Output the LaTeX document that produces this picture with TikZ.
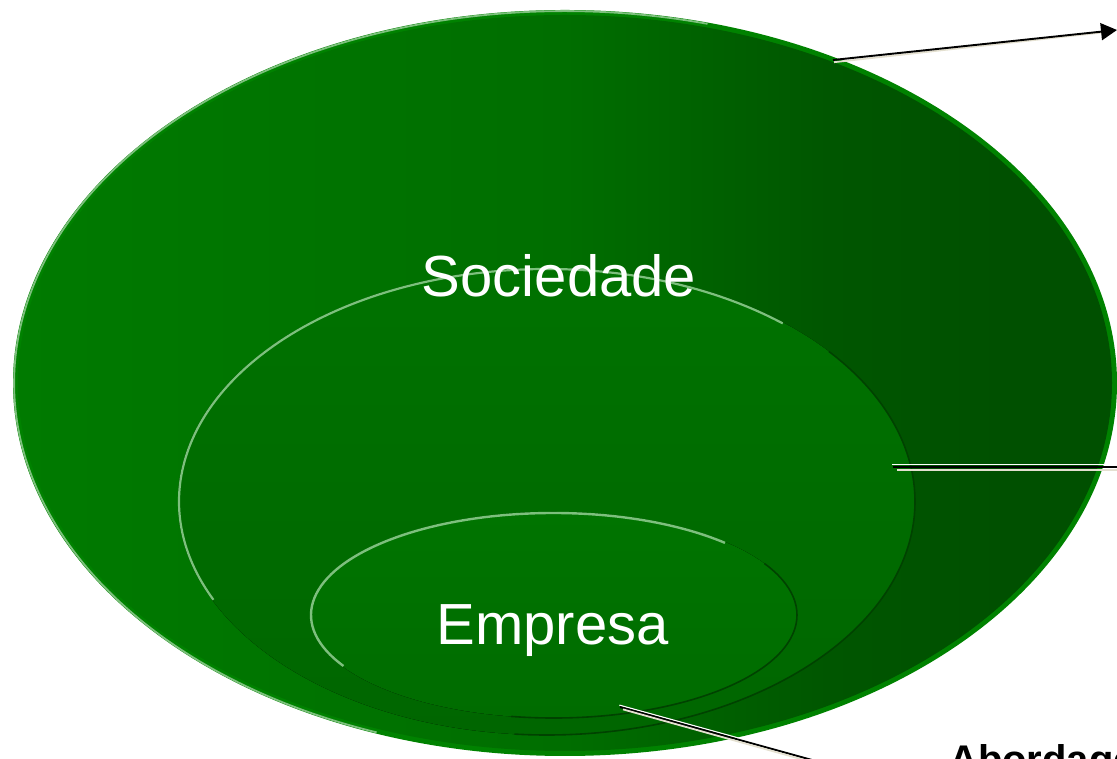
\documentclass[tikz,border=0pt]{standalone}
\usepackage{fontspec}
\setmainfont{Liberation Sans}
\usetikzlibrary{arrows.meta}
\definecolor{gA}{RGB}{0,122,0}
\definecolor{gM}{RGB}{0,110,0}
\definecolor{gN}{RGB}{0,86,0}
\definecolor{gB}{RGB}{0,80,0}
\definecolor{rim}{RGB}{0,130,0}
\definecolor{hl}{RGB}{125,192,125}
\definecolor{dk}{RGB}{0,66,0}
\definecolor{midT}{RGB}{0,114,0}
\definecolor{midB}{RGB}{0,102,0}
\definecolor{innT}{RGB}{0,116,0}
\definecolor{innB}{RGB}{0,108,0}
\definecolor{shad}{RGB}{228,224,208}
\pgfdeclarehorizontalshading{outersh}{100bp}{color(0bp)=(gA); color(25bp)=(gA); color(50bp)=(gM); color(62bp)=(gN); color(70bp)=(gB); color(100bp)=(gB)}
\begin{document}
\begin{tikzpicture}[x=1pt,y=1pt,
  lbl/.style={text=white,font=\fontsize{58}{64}\selectfont,inner sep=0},
  conn/.style={black,line width=1.9},
  hilite/.style={white,line width=1.3},
  shadowline/.style={shad,line width=1.8},
  glow/.style={hl,line width=1.8},
  edge/.style={dk,line width=1.6}]
\useasboundingbox (0,0) rectangle (1117,759);
% outer ellipse
\fill[rim] (565,376) ellipse [x radius=552, y radius=373];
\shade[shading=outersh] (565,376) ellipse [x radius=547, y radius=368];
\draw[glow] (565,376) ++(75:550.8 and 371.8) arc[start angle=75,end angle=250,x radius=550.8,y radius=371.8];
% middle ellipse
\fill[top color=midT,bottom color=midB] (546.5,257.5) ellipse [x radius=368.5, y radius=233.5];
\draw[edge] (546.5,257.5) ++(-95:368.5 and 233.5) arc[start angle=-95,end angle=40,x radius=368.5,y radius=233.5];
\draw[glow,line width=2.2] (546.5,257.5) ++(50:367.5 and 232.5) arc[start angle=50,end angle=205,x radius=367.5,y radius=232.5];
% inner ellipse
\fill[top color=innT,bottom color=innB] (553.5,144) ellipse [x radius=243.5, y radius=103];
\draw[edge] (553.5,144) ++(-100:243.5 and 103) arc[start angle=-100,end angle=30,x radius=243.5,y radius=103];
\draw[glow,line width=2.4] (553.5,144) ++(45:242.5 and 102) arc[start angle=45,end angle=210,x radius=242.5,y radius=102];
% labels
\node[lbl,anchor=base] (soc) at (559,462) {Sociedade};
\node[lbl,anchor=base] (emp) at (552.5,114) {Empresa};
\node[anchor=base west,inner sep=0,font=\fontsize{40}{44}\selectfont\bfseries] (abo) at (949,-15) {Abordagem};
% connector end points
\coordinate (a1) at (833,699);
\coordinate (a2) at (1117,729);
\coordinate (b1) at (893,292);
\coordinate (b2) at (1117,292);
\coordinate (c1) at (620,52);
\coordinate (c2) at (812,-1);
% arrow to the top right
\draw[shadowline] ([shift={(1,-2.2)}]a1) -- ([shift={(-12,-2.2)}]a2);
\draw[conn,-{Triangle[length=16pt,width=17pt]}] (a1) -- (a2);
% horizontal line at the right
\draw[hilite] ([shift={(-1,2.2)}]b1) -- ([shift={(0,2.2)}]b2);
\draw[conn] (b1) -- (b2);
\draw[shadowline] ([shift={(4,-2.8)}]b1) -- ([shift={(0,-2.8)}]b2);
% line to the bottom
\draw[hilite] ([shift={(-0.6,1.8)}]c1) -- ([shift={(-0.6,1.8)}]c2);
\draw[conn] (c1) -- (c2);
\draw[shadowline] ([shift={(3,-2.4)}]c1) -- ([shift={(1,-2.4)}]c2);
\end{tikzpicture}
\end{document}
